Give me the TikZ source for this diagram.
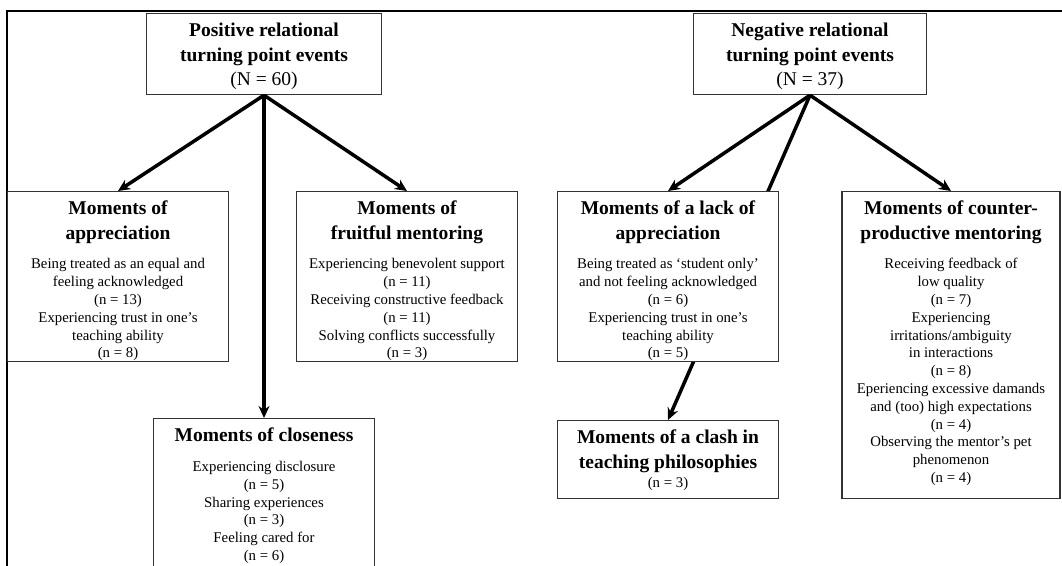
\documentclass[tikz,border=0pt]{standalone}
\usepackage{fontspec}
\setmainfont{Liberation Serif}
\usetikzlibrary{arrows.meta,backgrounds}
\newcommand{\ttl}{\fontsize{19.5}{24.5}\selectfont\bfseries}
\newcommand{\txt}{\fontsize{14.8}{17.8}\selectfont\mdseries}
\newcommand{\boxtext}[3]{\parbox[c][#1][t]{#2}{\centering\rule{0pt}{23pt}#3}}
\tikzset{
  cell/.style={draw=black!80,line width=1.2pt,fill=white,inner sep=0pt,anchor=north},
  arr/.style={line width=3.5pt,-{Stealth[length=12pt,width=11pt]}}
}
\begin{document}
\begin{tikzpicture}[x=1pt,y=-1pt]
\useasboundingbox (0,0) rectangle (1062,565);
\draw[line width=1.3pt] (7,580) -- (7,11) -- (1080,11);
\node[cell] (pos) at (264,13) {\boxtext{81pt}{235pt}{\ttl Positive relational\\ turning point events\\ \mdseries (N = 60)}};
\node[cell] (neg) at (810,13) {\boxtext{81pt}{233pt}{\ttl Negative relational\\ turning point events\\ \mdseries (N = 37)}};
\node[cell] (app) at (118,191) {\boxtext{170pt}{221pt}{\ttl Moments of\\ appreciation\par\vspace{12pt}\txt Being treated as an equal and\\ feeling acknowledged\\ (n = 13)\\ Experiencing trust in one's\\ teaching ability\\ (n = 8)}};
\node[cell] (fruit) at (407,191) {\boxtext{170pt}{221pt}{\ttl Moments of\\ fruitful mentoring\par\vspace{12pt}\txt Experiencing benevolent support\\ (n = 11)\\ Receiving constructive feedback\\ (n = 11)\\ Solving conflicts successfully\\ (n = 3)}};
\node[cell] (close) at (264,418) {\boxtext{165pt}{221pt}{\ttl Moments of closeness\par\vspace{12pt}\txt Experiencing disclosure\\ (n = 5)\\ Sharing experiences\\ (n = 3)\\ Feeling cared for\\ (n = 6)}};
\node[cell] (lack) at (668,191) {\boxtext{170pt}{221pt}{\ttl Moments of a lack of\\ appreciation\par\vspace{12pt}\txt Being treated as `student only'\\ and not feeling acknowledged\\ (n = 6)\\ Experiencing trust in one's\\ teaching ability\\ (n = 5)}};
\node[cell] (clash) at (668,420) {\boxtext{78pt}{221pt}{\ttl Moments of a clash in\\ teaching philosophies\par\vspace{2pt}\txt (n = 3)}};
\node[cell] (counter) at (951,191) {\boxtext{307pt}{218pt}{\ttl Moments of counter-\\ productive mentoring\par\vspace{12pt}\txt Receiving feedback of\\ low quality\\ (n = 7)\\ Experiencing\\ irritations/ambiguity\\ in interactions\\ (n = 8)\\ Eperiencing excessive damands\\ and (too) high expectations\\ (n = 4)\\ Observing the mentor's pet\\ phenomenon\\ (n = 4)}};
\draw[arr] (pos.south) -- (app.north);
\draw[arr] (pos.south) -- (close.north);
\draw[arr] (pos.south) -- (fruit.north);
\draw[arr] (neg.south) -- (lack.north);
\draw[arr] (neg.south) -- (counter.north);
\begin{scope}[on background layer]
\draw[arr] (neg.south) -- (clash.north);
\end{scope}
\end{tikzpicture}
\end{document}
